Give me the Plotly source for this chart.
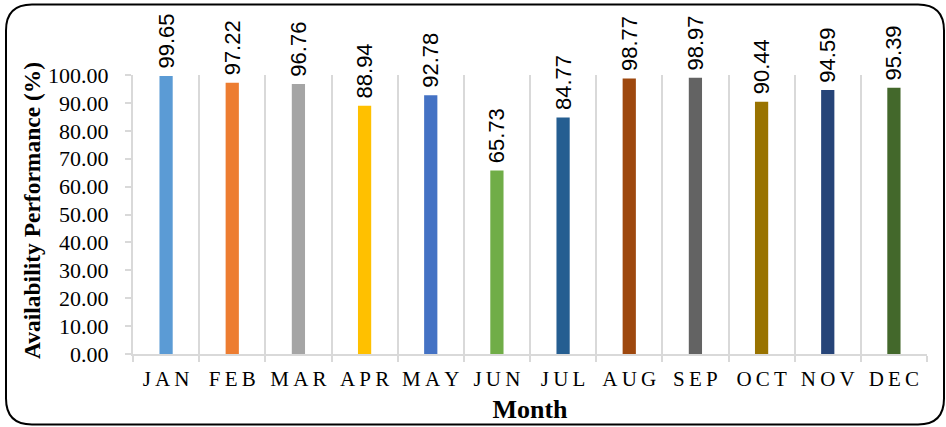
import plotly.graph_objects as go

months = ["JAN", "FEB", "MAR", "APR", "MAY", "JUN", "JUL", "AUG", "SEP", "OCT", "NOV", "DEC"]
availability = [99.65, 97.22, 96.76, 88.94, 92.78, 65.73, 84.77, 98.77, 98.97, 90.44, 94.59, 95.39]
bar_colors = ["#5B9BD5", "#ED7D31", "#A5A5A5", "#FFC000", "#4472C4", "#70AD47",
              "#255E91", "#9E480E", "#636363", "#997300", "#264478", "#43682B"]
y_ticks = [0, 10, 20, 30, 40, 50, 60, 70, 80, 90, 100]

W, H = 946, 427
L, R, T, B = 133, 19, 75, 73
FONT = "Liberation Serif, Times New Roman, serif"
LABEL_FONT = "Liberation Sans, Arial, sans-serif"
GRID = "#d9d9d9"

# spaced month labels on the category axis
spaced = ["\u2009".join(m) for m in months]

fig = go.Figure(go.Bar(
    x=months,
    y=availability,
    marker=dict(color=bar_colors, line=dict(width=0)),
    width=0.2,
    # leading thin space keeps a small gap between bar top and rotated label
    text=[f"\u2009{v:.2f}" for v in availability],
    textposition="outside",
    textangle=-90,
    constraintext="none",
    textfont=dict(family=LABEL_FONT, size=22, color="#000000"),
    cliponaxis=False,
))

# rounded outer frame, expressed in paper coordinates
pw, ph = W - L - R, H - T - B
def px(x):
    return (x - L) / pw
def py(y):
    return (H - B - y) / ph

x0, x1, y0, y1, r = 6, 944, 4.5, 424.5, 26
path = (
    f"M {px(x0 + r)} {py(y0)} L {px(x1 - r)} {py(y0)} "
    f"Q {px(x1)} {py(y0)} {px(x1)} {py(y0 + r)} "
    f"L {px(x1)} {py(y1 - r)} "
    f"Q {px(x1)} {py(y1)} {px(x1 - r)} {py(y1)} "
    f"L {px(x0 + r)} {py(y1)} "
    f"Q {px(x0)} {py(y1)} {px(x0)} {py(y1 - r)} "
    f"L {px(x0)} {py(y0 + r)} "
    f"Q {px(x0)} {py(y0)} {px(x0 + r)} {py(y0)} Z"
)

fig.update_layout(
    width=W, height=H,
    margin=dict(l=L, r=R, t=T, b=B),
    paper_bgcolor="white",
    plot_bgcolor="white",
    showlegend=False,
    font=dict(family=FONT, color="#000000"),
    shapes=[dict(type="path", xref="paper", yref="paper", path=path,
                 line=dict(color="#000000", width=2), fillcolor="rgba(0,0,0,0)", layer="above")],
    annotations=[dict(
        text="<b>Availability Performance (%)</b>",
        xref="paper", yref="paper", x=px(32), y=py(210),
        xanchor="center", yanchor="middle", textangle=-90, showarrow=False,
        font=dict(family=FONT, size=23.5, color="#000000"),
    )],
    xaxis=dict(
        tickmode="array", tickvals=months, ticktext=spaced,
        tickangle=0, automargin=False,
        tickson="boundaries",
        showgrid=True, gridcolor=GRID, gridwidth=2,
        showline=True, linecolor=GRID, linewidth=2,
        ticks="outside", ticklen=6, tickcolor=GRID, tickwidth=2,
        ticklabelstandoff=5,
        tickfont=dict(family=FONT, size=21, color="#000000"),
        title=dict(text="<b>Month</b>", font=dict(family=FONT, size=26, color="#000000"), standoff=10),
        zeroline=False,
    ),
    yaxis=dict(
        range=[0, 100], automargin=False,
        tickmode="array", tickvals=y_ticks, ticktext=[f"{v:.2f}" for v in y_ticks],
        showgrid=False,
        showline=True, linecolor=GRID, linewidth=2,
        ticks="outside", ticklen=6, tickcolor=GRID, tickwidth=2,
        ticklabelstandoff=12,
        tickfont=dict(family=FONT, size=22, color="#000000"),
        zeroline=False,
    ),
)

fig.write_html("out.html")
